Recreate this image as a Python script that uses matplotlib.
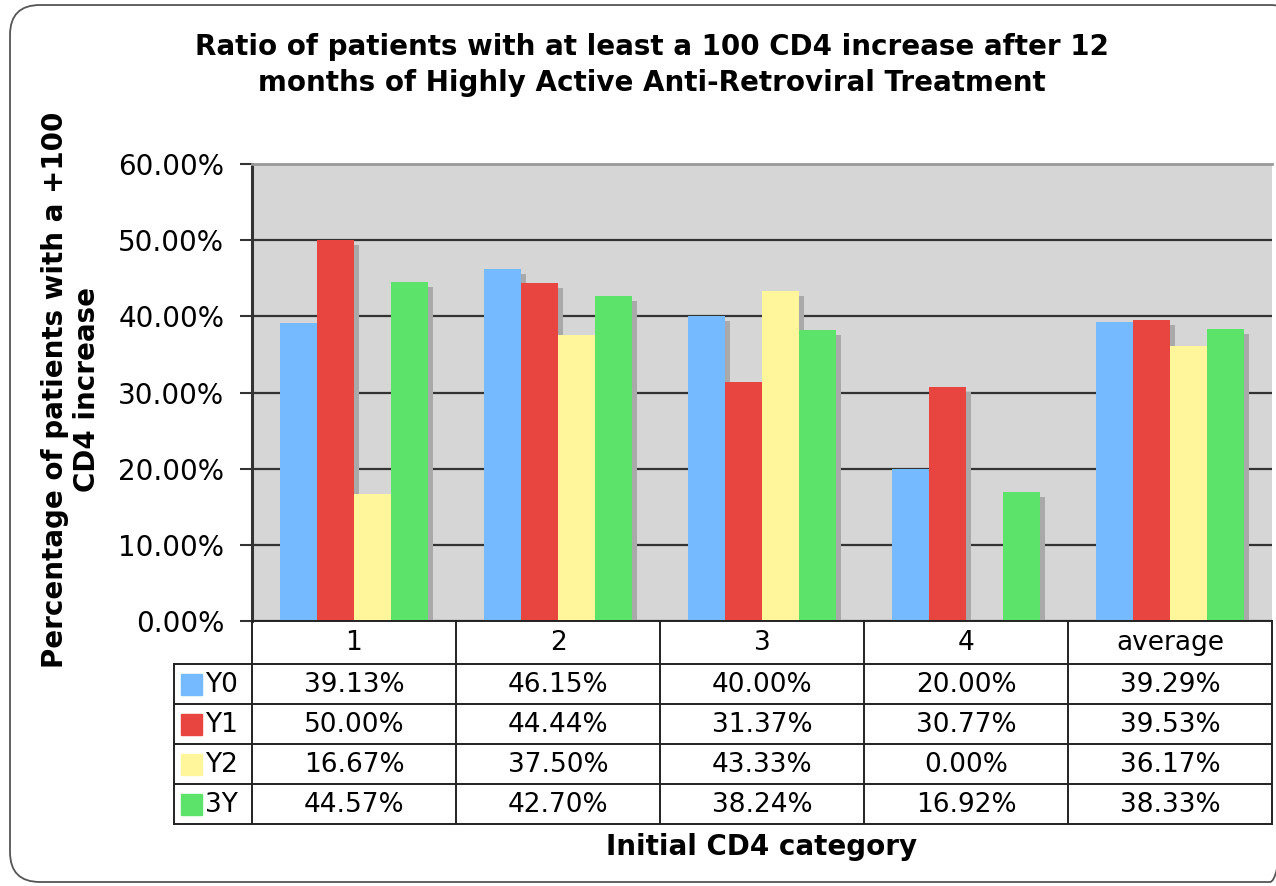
import matplotlib.pyplot as plt
from matplotlib.patches import FancyBboxPatch, Rectangle
from matplotlib.transforms import ScaledTranslation

categories = ["1", "2", "3", "4", "average"]
series = ["Y0", "Y1", "Y2", "3Y"]
y0 = [39.13, 46.15, 40.00, 20.00, 39.29]
y1 = [50.00, 44.44, 31.37, 30.77, 39.53]
y2 = [16.67, 37.50, 43.33, 0.00, 36.17]
y3 = [44.57, 42.70, 38.24, 16.92, 38.33]
values = [y0, y1, y2, y3]
colors = ["#75b9ff", "#e84541", "#fff59a", "#5ce36a"]

W, H = 1276, 886
fig = plt.figure(figsize=(W / 100, H / 100), dpi=100)

# plot area in pixels
L, R, T, B = 252, 1272, 164, 621
ax = fig.add_axes([L / W, 1 - B / H, (R - L) / W, (B - T) / H])
ax.set_facecolor("#d6d6d6")
ax.set_xlim(-0.5, len(categories) - 0.5)
ax.set_ylim(0, 60)

bw = 1 / (4 + 1.5)
shadow = ax.transData + ScaledTranslation(5 / 100, -5 / 100, fig.dpi_scale_trans)
for i, (vals, col) in enumerate(zip(values, colors)):
    xs = [c - 2 * bw + (i + 0.5) * bw for c in range(len(categories))]
    ax.bar(xs, vals, width=bw, color="#a9a9a9", transform=shadow, zorder=2)
for i, (vals, col) in enumerate(zip(values, colors)):
    xs = [c - 2 * bw + (i + 0.5) * bw for c in range(len(categories))]
    ax.bar(xs, vals, width=bw, color=col, zorder=3)

ax.set_yticks(range(0, 61, 10))
ax.set_yticklabels([f"{v:.2f}%" for v in range(0, 61, 10)], fontsize=20)
ax.yaxis.grid(True, color="#333333", linewidth=1.6, zorder=1)
ax.set_axisbelow(True)
ax.set_xticks([])
ax.tick_params(axis="y", length=9, width=1.5, color="#333333", pad=11)
for s in ["right", "bottom"]:
    ax.spines[s].set_visible(False)
ax.spines["top"].set_color("#999999")
ax.spines["top"].set_linewidth(2)
ax.spines["left"].set_color("#333333")
ax.spines["left"].set_linewidth(2.2)

# overlay in pixel coordinates for frame, table and labels
ov = fig.add_axes([0, 0, 1, 1], zorder=-1)
ov.set_xlim(0, W)
ov.set_ylim(H, 0)
ov.axis("off")
ov.add_patch(FancyBboxPatch((10, 5), 1290, 877, boxstyle="round,pad=0,rounding_size=30",
                            fill=False, edgecolor="#555555", linewidth=1.3))

tb = fig.add_axes([0, 0, 1, 1], zorder=5)
tb.set_xlim(0, W)
tb.set_ylim(H, 0)
tb.axis("off")
cw = (R - L) / len(categories)
rows = [621, 664, 704, 744, 784, 824]
lk = dict(color="#222222", linewidth=1.4)
for j in range(len(categories) + 1):
    tb.plot([L + j * cw] * 2, [rows[0], rows[-1]], **lk)
for r in rows:
    x0 = L if r == rows[0] else 174
    tb.plot([x0, R], [r, r], **lk)
tb.plot([174, 174], [rows[1], rows[-1]], **lk)
for j, c in enumerate(categories):
    tb.text(L + (j + 0.5) * cw, (rows[0] + rows[1]) / 2, c, ha="center", va="center", fontsize=19)
for i, name in enumerate(series):
    yc = (rows[i + 1] + rows[i + 2]) / 2
    tb.add_patch(Rectangle((181, yc - 10), 21, 21, color=colors[i]))
    tb.text(205, yc + 1, name, ha="left", va="center", fontsize=19)
    for j, v in enumerate(values[i]):
        tb.text(L + (j + 0.5) * cw, yc + 1, f"{v:.2f}%", ha="center", va="center", fontsize=19)

fig.text(652 / W, 1 - 65 / H,
         "Ratio of patients with at least a 100 CD4 increase after 12\nmonths of Highly Active Anti-Retroviral Treatment",
         ha="center", va="center", fontsize=20, fontweight="bold", linespacing=1.35)
fig.text(71 / W, 1 - 390 / H, "Percentage of patients with a +100\nCD4 increase",
         ha="center", va="center", rotation=90, fontsize=20, fontweight="bold", linespacing=1.2)
fig.text(762 / W, 1 - 847 / H, "Initial CD4 category", ha="center", va="center",
         fontsize=20, fontweight="bold")

fig.savefig("out.png", dpi=100)
